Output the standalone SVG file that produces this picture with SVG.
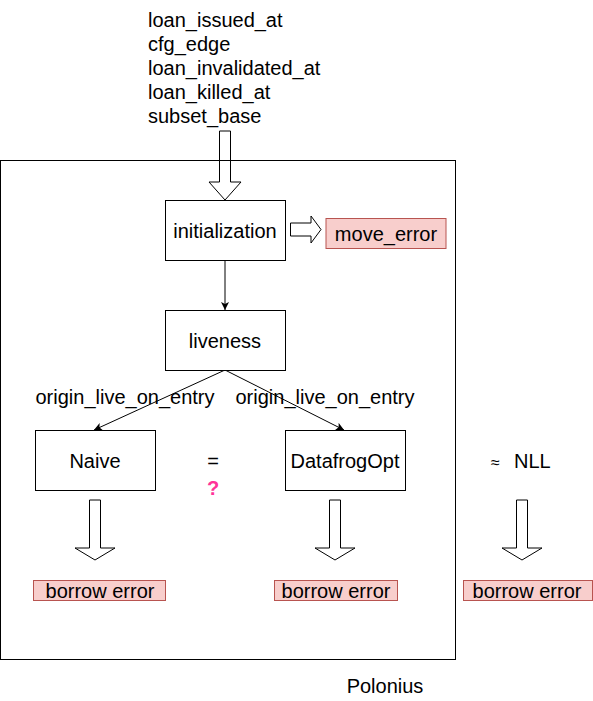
<svg xmlns="http://www.w3.org/2000/svg" width="593" height="701" viewBox="0 0 593 701">
<style>
text{font-family:"Liberation Sans",Arial,sans-serif;font-size:20px;fill:#000}
.c{text-anchor:middle}
.box{fill:#fff;stroke:#000;stroke-width:1}
.err{fill:#f8cecc;stroke:#b85450;stroke-width:1}
.blk{fill:#fff;stroke:#000;stroke-width:1;stroke-linejoin:miter}
.edge{fill:none;stroke:#000;stroke-width:1}
</style>
<defs>
<marker id="ah" viewBox="0 0 10 10" refX="10" refY="5" markerWidth="8" markerHeight="8" markerUnits="userSpaceOnUse" orient="auto">
<path d="M0,0 L10,5 L0,10 L2.5,5 Z" fill="#000"/>
</marker>
</defs>
<rect width="593" height="701" fill="#fff"/>
<g id="inputs">
<text x="148" y="27">loan_issued_at</text>
<text x="148" y="51">cfg_edge</text>
<text x="148" y="75">loan_invalidated_at</text>
<text x="148" y="99">loan_killed_at</text>
<text x="148" y="123">subset_base</text>
</g>
<g id="block-arrows">
<path class="blk" d="M219.5,131 L230.5,131 L230.5,182 L241,182 L225,200 L209,182 L219.5,182 Z"/>
<path class="blk" d="M290.5,223 L311,223 L311,216 L321,229.5 L311,243 L311,236 L290.5,236 Z"/>
<path class="blk" d="M89.5,500 L100.5,500 L100.5,548 L115,548 L95,560 L75,548 L89.5,548 Z"/>
<path class="blk" d="M329.5,500 L340.5,500 L340.5,548 L355,548 L335,560 L315,548 L329.5,548 Z"/>
<path class="blk" d="M516.5,500 L527.5,500 L527.5,548 L542,548 L522,560 L502,548 L516.5,548 Z"/>
</g>
<g id="polonius">
<rect x="0.5" y="160.5" width="455" height="499" fill="none" stroke="#000" stroke-width="1"/>
<text class="c" x="385" y="693">Polonius</text>
</g>
<g id="connectors">
<line class="edge" x1="225" y1="260" x2="225" y2="310" marker-end="url(#ah)"/>
<line class="edge" x1="225" y1="370" x2="94" y2="430" marker-end="url(#ah)"/>
<line class="edge" x1="225" y1="370" x2="344" y2="430" marker-end="url(#ah)"/>
<text class="c" x="125" y="404">origin_live_on_entry</text>
<text class="c" x="325" y="404">origin_live_on_entry</text>
</g>
<g id="initialization">
<rect class="box" x="165.5" y="200.5" width="120" height="60"/>
<text class="c" x="225" y="238">initialization</text>
</g>
<g id="move_error">
<rect class="err" x="326" y="218.5" width="120" height="30"/>
<text class="c" x="386" y="241">move_error</text>
</g>
<g id="liveness">
<rect class="box" x="165.5" y="310.5" width="120" height="60"/>
<text class="c" x="225" y="348">liveness</text>
</g>
<g id="naive">
<rect class="box" x="35.5" y="430.5" width="120" height="60"/>
<text class="c" x="95" y="468">Naive</text>
</g>
<g id="datafrogopt">
<rect class="box" x="285.5" y="430.5" width="120" height="60"/>
<text class="c" x="345" y="468">DatafrogOpt</text>
</g>
<g id="equal">
<text class="c" x="213" y="468">=</text>
<text class="c" x="213" y="495" style="fill:#ff3399;font-weight:bold">?</text>
</g>
<g id="nll">
<text x="491" y="468"><tspan style="font-size:16px">≈ </tspan><tspan x="514">NLL</tspan></text>
</g>
<g id="borrow-naive">
<rect class="err" x="33.5" y="580.5" width="132" height="20"/>
<text class="c" x="100" y="598">borrow error</text>
</g>
<g id="borrow-datafrog">
<rect class="err" x="274.5" y="580.5" width="123" height="20"/>
<text class="c" x="336" y="598">borrow error</text>
</g>
<g id="borrow-nll">
<rect class="err" x="463.5" y="580.5" width="129" height="20"/>
<text class="c" x="527" y="598">borrow error</text>
</g>
</svg>
